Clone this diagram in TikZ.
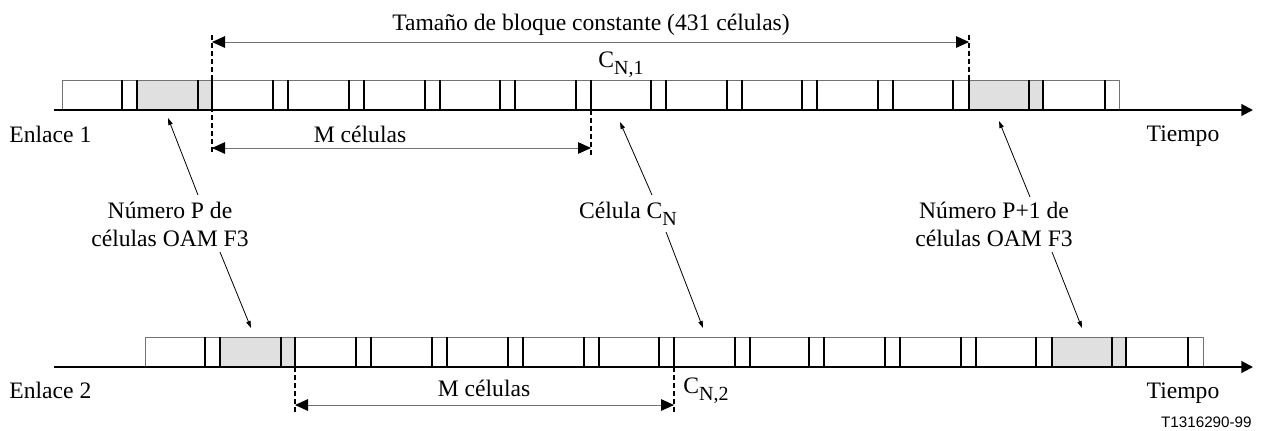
\documentclass[tikz,border=0pt]{standalone}
\usepackage{fontspec}
\setmainfont{Liberation Serif}
\newfontfamily\refsans{Liberation Sans}
\usetikzlibrary{arrows.meta,positioning,calc}
\newcommand{\cellsub}[1]{\raisebox{-0.3em}{\fontsize{10}{10}\selectfont #1}}

\begin{document}
\begin{tikzpicture}[line join=round,x=0.5pt,y=-0.5pt,every node/.style={font=\fontsize{11.8}{14}\selectfont,inner sep=0pt},
	timeaxis/.style={line width=1pt,-{Triangle[length=5.8pt,width=5.8pt]}},
	celledge/.style={line width=0.5pt,color=black!55},
	cellsep/.style={line width=1pt},
	oamcell/.style={fill=black!12},
	guide/.style={line width=0.75pt,dash pattern=on 2.5pt off 1.5pt},
	dimline/.style={line width=0.5pt,color=black!55,{Triangle[length=6.5pt,width=5.8pt,color=black]}-{Triangle[length=6.5pt,width=5.8pt,color=black]}},
	pointer/.style={line width=0.4pt,-{Triangle[length=3.5pt,width=2.2pt]}}]

\useasboundingbox (0,0) rectangle (1261,430);

% Enlace 1
\fill[oamcell] (137,80) rectangle (212,110);
\fill[oamcell] (969,80) rectangle (1043,110);
\draw[celledge] (62,110) -- (62,80) -- (1119,80) -- (1119,110);
\draw[cellsep] (122,80)--(122,110) (137,80)--(137,110) (198,80)--(198,110) (212,80)--(212,110)
	(273,80)--(273,110) (288,80)--(288,110) (349,80)--(349,110) (364,80)--(364,110)
	(425,80)--(425,110) (440,80)--(440,110) (500,80)--(500,110) (515,80)--(515,110)
	(576,80)--(576,110) (591,80)--(591,110) (651,80)--(651,110) (666,80)--(666,110)
	(727,80)--(727,110) (742,80)--(742,110) (802,80)--(802,110) (817,80)--(817,110)
	(878,80)--(878,110) (893,80)--(893,110) (953,80)--(953,110) (969,80)--(969,110)
	(1029,80)--(1029,110) (1043,80)--(1043,110) (1105,80)--(1105,110);
\draw[timeaxis] (54,110) -- (1253,110);

% Enlace 2
\fill[oamcell] (220,337) rectangle (295,367);
\fill[oamcell] (1052,337) rectangle (1126,367);
\draw[celledge] (145,367) -- (145,337) -- (1203,337) -- (1203,367);
\draw[cellsep] (205,337)--(205,367) (220,337)--(220,367) (281,337)--(281,367) (295,337)--(295,367)
	(356,337)--(356,367) (371,337)--(371,367) (432,337)--(432,367) (447,337)--(447,367)
	(508,337)--(508,367) (523,337)--(523,367) (584,337)--(584,367) (599,337)--(599,367)
	(659,337)--(659,367) (674,337)--(674,367) (735,337)--(735,367) (750,337)--(750,367)
	(809,337)--(809,367) (824,337)--(824,367) (885,337)--(885,367) (900,337)--(900,367)
	(961,337)--(961,367) (976,337)--(976,367) (1036,337)--(1036,367) (1052,337)--(1052,367)
	(1112,337)--(1112,367) (1126,337)--(1126,367) (1188,337)--(1188,367);
\draw[timeaxis] (54,367) -- (1253,367);

% guides and spans
\draw[guide] (212,35) -- (212,155);
\draw[guide] (969,35) -- (969,80);
\draw[guide] (591,110) -- (591,155);
\draw[guide] (295,367) -- (295,412);
\draw[guide] (674,367) -- (674,412);

\coordinate (blkA) at (212,42);
\coordinate (blkB) at (969,42);
\coordinate (mA1) at (212,148);
\coordinate (mB1) at (591,148);
\coordinate (mA2) at (295,405);
\coordinate (mB2) at (674,405);
\draw[dimline] (blkA) -- (blkB);
\draw[dimline] (mA1) -- (mB1);
\draw[dimline] (mA2) -- (mB2);

% texts
\node[anchor=base] (tamano) at (591,30) {Tamaño de bloque constante (431 células)};
\node[anchor=base] (cn1) at (621,67) {C\cellsub{N,1}};
\node[anchor=base west] (enlace1) at (9,142) {Enlace 1};
\node[anchor=base] (mcel1) at (360,142) {M células};
\node[anchor=base] (tiempo1) at (1183,141) {Tiempo};

\node[anchor=base west] (enlace2) at (9,398) {Enlace 2};
\node[anchor=base] (mcel2) at (484,396) {M células};
\node[anchor=base west] (cn2) at (683,393) {C\cellsub{N,2}};
\node[anchor=base] (tiempo2) at (1183,398) {Tiempo};

\node[align=center] (numP) at (170,224) {Número P de\\células OAM F3};
\node[anchor=base] (celCN) at (628,218) {Célula C\cellsub{N}};
\node[align=center] (numQ) at (994,224) {Número P+1 de\\células OAM F3};
\node[anchor=base east,font=\refsans\fontsize{7.6}{9}\selectfont] (ref) at (1252,427) {T1316290-99};

% pointers
\coordinate (pUp) at (198,195);
\coordinate (pDown) at (220,252);
\coordinate (cUp) at (652,195);
\coordinate (cDown) at (666,232);
\coordinate (qUp) at (1030,197);
\coordinate (qDown) at (1052,252);
\coordinate (oamP1) at (168,118);
\coordinate (oamP2) at (251,328);
\coordinate (celN1) at (620,122);
\coordinate (celN2) at (703,328);
\coordinate (oamQ1) at (999,121);
\coordinate (oamQ2) at (1082,328);
\draw[pointer] (pUp) -- (oamP1);
\draw[pointer] (pDown) -- (oamP2);
\draw[pointer] (cUp) -- (celN1);
\draw[pointer] (cDown) -- (celN2);
\draw[pointer] (qUp) -- (oamQ1);
\draw[pointer] (qDown) -- (oamQ2);
\end{tikzpicture}
\end{document}
